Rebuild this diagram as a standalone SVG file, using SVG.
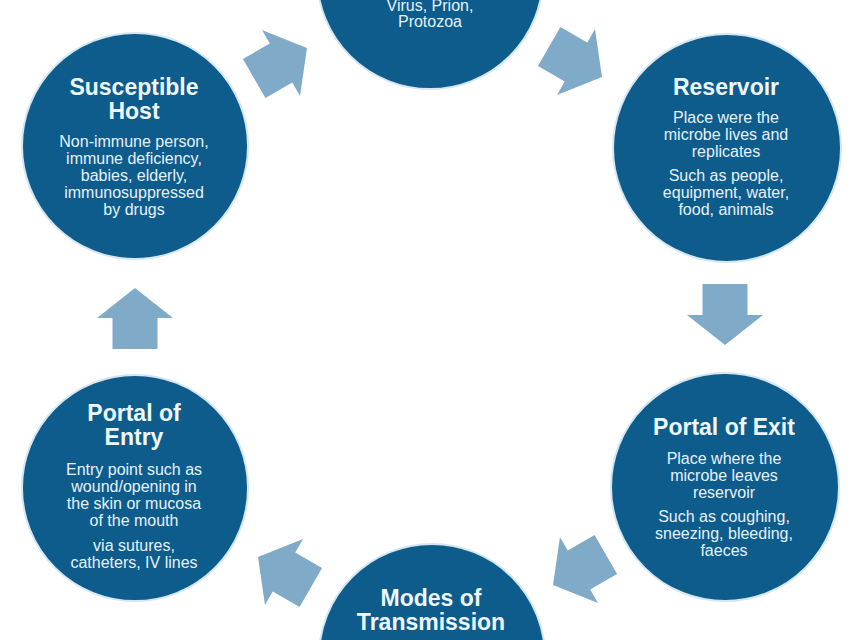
<svg xmlns="http://www.w3.org/2000/svg" width="860" height="640" viewBox="0 0 860 640">
  <style>
    .c { fill: #0e5c8c; stroke: #d3e6f1; stroke-width: 2; }
    .h { font-family: "Liberation Sans", Arial, sans-serif; font-weight: bold; font-size: 23px; fill: #eef7fc; text-anchor: middle; }
    .b { font-family: "Liberation Sans", Arial, sans-serif; font-size: 16px; fill: #e6f2fa; text-anchor: middle; }
    .a { fill: #80abc8; }
  </style>
  <defs>
    <path id="arr" d="M0,0 L-30,-38 L-30,-22.5 L-61,-22.5 L-61,22.5 L-30,22.5 L-30,38 Z"/>
  </defs>
  <rect width="860" height="640" fill="#ffffff"/>

  <g id="connectors">
    <use href="#arr" class="a" transform="translate(307,48) rotate(-30)"/>
    <use href="#arr" class="a" transform="translate(602,77) rotate(30)"/>
    <use href="#arr" class="a" transform="translate(725,345) rotate(90)"/>
    <use href="#arr" class="a" transform="translate(553,585) rotate(150)"/>
    <use href="#arr" class="a" transform="translate(258,557) rotate(210)"/>
    <use href="#arr" class="a" transform="translate(135,288) rotate(-90)"/>
  </g>

  <g id="agent">
    <circle class="c" cx="430" cy="-24" r="113"/>
    <text class="b" x="430" y="11">Virus, Prion,</text>
    <text class="b" x="430" y="27">Protozoa</text>
  </g>

  <g id="reservoir">
    <circle class="c" cx="727" cy="148" r="114"/>
    <text class="h" x="726" y="95">Reservoir</text>
    <text class="b" x="726" y="123">Place were the</text>
    <text class="b" x="726" y="140">microbe lives and</text>
    <text class="b" x="726" y="157">replicates</text>
    <text class="b" x="726" y="181">Such as people,</text>
    <text class="b" x="726" y="198">equipment, water,</text>
    <text class="b" x="726" y="215">food, animals</text>
  </g>

  <g id="portal-of-exit">
    <circle class="c" cx="725" cy="487" r="114"/>
    <text class="h" x="724" y="435">Portal of Exit</text>
    <text class="b" x="724" y="464">Place where the</text>
    <text class="b" x="724" y="481">microbe leaves</text>
    <text class="b" x="724" y="498">reservoir</text>
    <text class="b" x="724" y="522">Such as coughing,</text>
    <text class="b" x="724" y="539">sneezing, bleeding,</text>
    <text class="b" x="724" y="556">faeces</text>
  </g>

  <g id="modes-of-transmission">
    <circle class="c" cx="432" cy="657" r="113"/>
    <text class="h" x="431" y="606">Modes of</text>
    <text class="h" x="431" y="630">Transmission</text>
  </g>

  <g id="portal-of-entry">
    <circle class="c" cx="135" cy="488" r="113"/>
    <text class="h" x="134" y="421">Portal of</text>
    <text class="h" x="134" y="445">Entry</text>
    <text class="b" x="134" y="475">Entry point such as</text>
    <text class="b" x="134" y="492">wound/opening in</text>
    <text class="b" x="134" y="509">the skin or mucosa</text>
    <text class="b" x="134" y="526">of the mouth</text>
    <text class="b" x="134" y="551">via sutures,</text>
    <text class="b" x="134" y="568">catheters, IV lines</text>
  </g>

  <g id="susceptible-host">
    <circle class="c" cx="135" cy="146" r="113"/>
    <text class="h" x="134" y="95">Susceptible</text>
    <text class="h" x="134" y="119">Host</text>
    <text class="b" x="134" y="147">Non-immune person,</text>
    <text class="b" x="134" y="164">immune deficiency,</text>
    <text class="b" x="134" y="181">babies, elderly,</text>
    <text class="b" x="134" y="198">immunosuppressed</text>
    <text class="b" x="134" y="215">by drugs</text>
  </g>
</svg>
